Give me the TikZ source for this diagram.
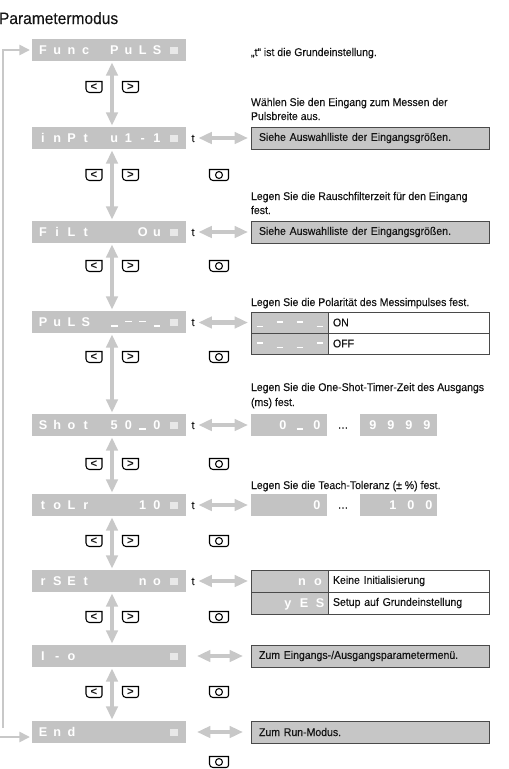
\documentclass[tikz,border=0pt]{standalone}
\usepackage{fontspec}
\setmainfont{Liberation Sans}[FakeStretch=0.94,FakeBold=0.25]
\newfontfamily\dispfont{Liberation Sans}
\newfontfamily\keyfont{Liberation Sans}[FakeStretch=1.0]
\usetikzlibrary{arrows.meta}
\definecolor{dispgray}{HTML}{C3C3C3}
\definecolor{arrgray}{HTML}{C8C8C8}
\definecolor{sqgray}{HTML}{E8E8E8}
\definecolor{boxgray}{HTML}{C6C6C6}
\definecolor{bordgray}{HTML}{4A4A4A}
\definecolor{txtcol}{HTML}{141414}
\newcommand{\usc}{\rule{5pt}{1.1pt}}
\newcommand{\dsh}{\rule[3.2pt]{5pt}{1.1pt}}
\newcommand{\dchars}[5]{\foreach \ch [count=\k from 0] in {#5}{\node[dchar] (#1c\k) at ({#3+#4*\k},{#2+4.5}) {\ch};}}
\newcommand{\keyshape}[1]{\draw[keyline] (#1.north west) -- (#1.north east) -- ([yshift=1.8pt]#1.south east) arc[start angle=0,end angle=-90,radius=1.8pt] -- ([xshift=2.6pt]#1.south west) arc[start angle=270,end angle=180,radius=2.6pt] -- cycle;}
\tikzset{
  every node/.style={inner sep=0pt, outer sep=0pt},
  dispbox/.style={fill=dispgray, minimum width=115.5pt, minimum height=16.5pt},
  dchar/.style={text=white, font=\dispfont\bfseries\fontsize{9.5}{10}\selectfont, anchor=base},
  sqmark/.style={fill=sqgray, minimum width=6pt, minimum height=5.25pt},
  desc/.style={text=txtcol, font=\fontsize{8.4}{10}\selectfont, anchor=base west},
  titlestyle/.style={text=txtcol, font=\fontsize{12.4}{14}\selectfont, anchor=base west},
  infobox/.style={draw=bordgray, line width=0.75pt, fill=boxgray, minimum height=16.5pt, text width=166.5pt, inner xsep=6pt, align=left, text=txtcol, font=\fontsize{8.4}{10}\selectfont},
  tabl/.style={draw=bordgray, line width=0.75pt, fill=boxgray, minimum width=57.75pt, minimum height=#1},
  tabr/.style={draw=bordgray, line width=0.75pt, fill=white, text width=113.25pt, inner xsep=3.75pt, minimum height=#1, align=left, text=txtcol, font=\fontsize{8.4}{10}\selectfont},
  smalldisp/.style={fill=dispgray, minimum width=#1, minimum height=16.5pt},
  varrow/.style={draw=arrgray, line width=3.4pt, {Triangle[width=8.5pt,length=10pt]}-{Triangle[width=8.5pt,length=10pt]}},
  harrow/.style={draw=arrgray, line width=3.2pt, {Triangle[width=8.5pt,length=10pt]}-{Triangle[width=8.5pt,length=10pt]}},
  loopline/.style={draw=arrgray, line width=2pt, -{Triangle[width=7.5pt,length=8pt]}},
  keynode/.style={minimum width=12pt, minimum height=8.25pt, text=txtcol, font=\keyfont\bfseries\fontsize{8.5}{8.5}\selectfont},
  okkey/.style={minimum width=14.25pt, minimum height=8.25pt},
  keyline/.style={draw=black, line width=0.8pt},
}
\begin{document}
\begin{tikzpicture}[x=0.75pt,y=-0.75pt]
\useasboundingbox (0,0) rectangle (509,769);

\node[titlestyle] (title) at (-1,24) {Parametermodus};

% display boxes
\node[dispbox] (d1) at (109,50) {};
\node[dispbox] (d2) at (109,138) {};
\node[dispbox] (d3) at (109,232) {};
\node[dispbox] (d4) at (109,322) {};
\node[dispbox] (d5) at (109,425) {};
\node[dispbox] (d6) at (109,505) {};
\node[dispbox] (d7) at (109,581) {};
\node[dispbox] (d8) at (109,656) {};
\node[dispbox] (d9) at (109,732) {};
\foreach \r/\yy in {1/50,2/138,3/232,4/322,5/425,6/505,7/581,8/656,9/732}
  \node[sqmark] (sq\r) at (174,\yy) {};

\dchars{d1}{50}{43}{14.25}{F,u,n,c,{},P,u,L,S}
\dchars{d2}{138}{43}{14.25}{i,n,P,t,{},u,1,-,1}
\dchars{d3}{232}{43}{14.25}{F,i,L,t,{},{},{},O,u}
\dchars{d4}{322}{43}{14.25}{P,u,L,S,{},\usc,\dsh,\dsh,\usc}
\dchars{d5}{425}{43}{14.25}{S,h,o,t,{},5,0,\usc,0}
\dchars{d6}{505}{43}{14.25}{t,o,L,r,{},{},{},1,0}
\dchars{d7}{581}{43}{14.25}{r,S,E,t,{},{},{},n,o}
\dchars{d8}{656}{43}{14.25}{I,-,o}
\dchars{d9}{732}{43}{14.25}{E,n,d}

% vertical arrows
\foreach \a/\b in {d1/d2,d2/d3,d3/d4,d4/d5,d5/d6,d6/d7,d7/d8,d8/d9}
  \draw[varrow] ([xshift=2.25pt,yshift=-1pt]\a.south) -- ([xshift=2.25pt,yshift=1pt]\b.north);

% loop line
\coordinate (lb) at (3,728);
\coordinate (lt) at (3,50);
\draw[loopline, shorten >=1.5pt] (lb) -- (lt) -- (d1.west);
\coordinate (lbb) at (0,737);
\draw[loopline, shorten >=1.5pt] (lbb) -- (d9.west |- lbb);

% keys
\foreach \r/\yy in {1/87,2/175,3/266,4/357,5/464,6/541,7/617,8/692}{
  \node[keynode] (kl\r) at (94,\yy) {<};
  \keyshape{kl\r}
  \node[keynode] (kr\r) at (130.5,\yy) {>};
  \keyshape{kr\r}
}
\foreach \r/\yy in {2/175,3/266,4/357,5/464,6/541,7/617,8/692,9/762}{
  \node[okkey] (ko\r) at (219,\yy) {};
  \keyshape{ko\r}
  \draw[line width=0.8pt] (ko\r.center) circle[radius=2.6pt];
}

% t labels
\foreach \r/\yy in {2/138,3/232,4/322,5/425,6/505,7/581}
  \node[desc, anchor=base] (t\r) at (193,\yy+4) {t};

% descriptions
\node[desc] (r1a) at (251,56) {„t“ ist die Grundeinstellung.};
\node[desc] (r2a) at (251,106) {Wählen Sie den Eingang zum Messen der};
\node[desc] (r2b) at (251,120) {Pulsbreite aus.};
\node[desc] (r3a) at (251,200) {Legen Sie die Rauschfilterzeit für den Eingang};
\node[desc] (r3b) at (251,214) {fest.};
\node[desc] (r4a) at (251,306) {Legen Sie die Polarität des Messimpulses fest.};
\node[desc] (r5a) at (251,391) {Legen Sie die One-Shot-Timer-Zeit des Ausgangs};
\node[desc] (r5b) at (251,406) {(ms) fest.};
\node[desc] (r6a) at (251,489) {Legen Sie die Teach-Toleranz (± \%) fest.};

% info boxes
\node[infobox] (i2) at (370,138) {Siehe Auswahlliste der Eingangsgrößen.};
\node[infobox] (i3) at (370,232) {Siehe Auswahlliste der Eingangsgrößen.};
\node[infobox] (i8) at (370,656) {Zum Eingangs-/Ausgangsparametermenü.};
\node[infobox] (i9) at (370,732) {Zum Run-Modus.};

% table row 4
\node[tabl=15.75pt] (t4a) at (289.5,322.5) {};
\node[tabr=15.75pt] (t4b) at (408.5,322.5) {ON};
\node[tabl=15.75pt] (t4c) at (289.5,343.5) {};
\node[tabr=15.75pt] (t4d) at (408.5,343.5) {OFF};
\foreach \ch/\xx [count=\k] in {\usc/260,\dsh/280,\dsh/300,\usc/320}
  \node[dchar] (t4ac\k) at (\xx,327) {\ch};
\foreach \ch/\xx [count=\k] in {\dsh/260,\usc/280,\usc/300,\dsh/320}
  \node[dchar] (t4cc\k) at (\xx,348) {\ch};

% small displays row 5
\node[smalldisp=57pt] (b5a) at (289,425) {};
\node[smalldisp=57.75pt] (b5b) at (398.5,425) {};
\foreach \ch/\xx [count=\k] in {0/283,\usc/300,0/317}
  \node[dchar] (b5ac\k) at (\xx,429.5) {\ch};
\foreach \ch/\xx [count=\k] in {9/373,9/391,9/409,9/427}
  \node[dchar] (b5bc\k) at (\xx,429.5) {\ch};
\node[desc, anchor=base] (e5) at (343,428.5) {…};

% small displays row 6
\node[smalldisp=57pt] (b6a) at (289,505) {};
\node[smalldisp=57.75pt] (b6b) at (398.5,505) {};
\node[dchar] (b6ac1) at (317,509.5) {0};
\foreach \ch/\xx [count=\k] in {1/393,0/411,0/429}
  \node[dchar] (b6bc\k) at (\xx,509.5) {\ch};
\node[desc, anchor=base] (e6) at (343,508.5) {…};

% table row 7
\node[tabl=16.5pt] (t7a) at (289.5,581) {};
\node[tabr=16.5pt] (t7b) at (408.5,581) {Keine Initialisierung};
\node[tabl=16.5pt] (t7c) at (289.5,603) {};
\node[tabr=16.5pt] (t7d) at (408.5,603) {Setup auf Grundeinstellung};
\foreach \ch/\xx [count=\k] in {n/302,o/318}
  \node[dchar] (t7ac\k) at (\xx,585.5) {\ch};
\foreach \ch/\xx [count=\k] in {y/288,E/304,S/320}
  \node[dchar] (t7cc\k) at (\xx,607.5) {\ch};

% horizontal arrows
\draw[harrow, shorten <=3pt, shorten >=2.25pt] (t2.east |- i2.west) -- (i2.west);
\draw[harrow, shorten <=3pt, shorten >=2.25pt] (t3.east |- i3.west) -- (i3.west);
\draw[harrow, shorten <=3pt, shorten >=2.25pt] (t4.east |- t4a.west) -- (t4a.west);
\draw[harrow, shorten <=3pt, shorten >=2.25pt] (t5.east |- b5a.west) -- (b5a.west);
\draw[harrow, shorten <=3pt, shorten >=2.25pt] (t6.east |- b6a.west) -- (b6a.west);
\draw[harrow, shorten <=3pt, shorten >=2.25pt] (t7.east |- t7a.west) -- (t7a.west);
\draw[harrow, shorten <=8.25pt, shorten >=6pt] (d8.east) -- (i8.west);
\draw[harrow, shorten <=8.25pt, shorten >=6pt] (d9.east) -- (i9.west);
\end{tikzpicture}
\end{document}
